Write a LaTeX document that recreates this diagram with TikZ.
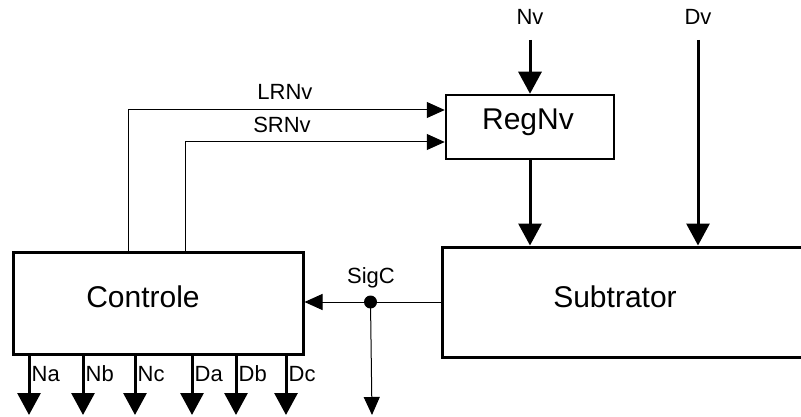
\documentclass[tikz,border=0pt]{standalone}
\usepackage{fontspec}
\setmainfont{Liberation Sans}
\usetikzlibrary{arrows.meta, positioning}
\tikzset{
	blkbox/.style ={rectangle, draw=black, line width=3pt, inner sep=0pt},
	bigtxt/.style ={font=\fontsize{30}{35}\selectfont, anchor=base, inner sep=0pt},
	sigtxt/.style ={font=\fontsize{22}{26}\selectfont, anchor=base, inner sep=0pt},
	bus/.style    ={line width=3pt, -{Triangle[length=22pt, width=23pt]}},
	wire/.style   ={line width=1pt, -{Triangle[length=18pt, width=16pt]}},
}
\begin{document}
\begin{tikzpicture}[x=1pt, y=-1pt]
	\useasboundingbox (0,0) rectangle (801,417);
	% blocks
	\node[blkbox, minimum width=290pt, minimum height=102pt] (ctrl) at (158,303) {};
	\node[blkbox, minimum width=370pt, minimum height=110pt] (sub) at (627,302) {};
	\node[blkbox, line width=2.5pt, minimum width=168pt, minimum height=64pt] (reg) at (530,127) {};
	\node[bigtxt] (ctrltxt) at (143,307) {Controle};
	\node[bigtxt] (subtxt) at (615,307) {Subtrator};
	\node[bigtxt] (regtxt) at (528,130) {RegNv};
	% inputs
	\node[sigtxt] (nv) at (530,25) {Nv};
	\node[sigtxt] (dv) at (698,25) {Dv};
	\coordinate (nvtop) at (530,40);
	\coordinate (dvtop) at (698,40);
	\draw[bus] (nvtop) -- (reg.north);
	\draw[bus] (dvtop) -- (dvtop |- sub.north);
	\draw[bus] (reg.south) -- (reg.south |- sub.north);
	% control lines to register
	\coordinate (lr) at (128,110);
	\coordinate (sr) at (185,142);
	\draw[wire] (lr |- ctrl.north) -- (lr) -- (lr -| reg.west);
	\draw[wire] (sr |- ctrl.north) -- (sr) -- (sr -| reg.west);
	\node[sigtxt] (lrnv) at (285,100) {LRNv};
	\node[sigtxt] (srnv) at (282,133) {SRNv};
	% SigC
	\path (sub.west) ++(-70,0) coordinate (sigc);
	\coordinate (sigend) at (372,415);
	\draw[wire] (sub.west) -- (sub.west -| ctrl.east);
	\draw[wire] (sigc) -- (sigend);
	\fill (sigc) circle (6.5pt);
	\node[sigtxt] (sigclbl) at (371,283) {SigC};
	% outputs
	\foreach \x/\lbl in {29/Na, 83/Nb, 135/Nc, 192/Da, 236/Db, 286/Dc} {
		\coordinate (o\lbl) at (\x,415);
		\draw[bus] (o\lbl |- ctrl.south) -- (o\lbl);
		\node[sigtxt, anchor=base west] (t\lbl) at (\x+2.5,381) {\lbl};
	}
\end{tikzpicture}
\end{document}
